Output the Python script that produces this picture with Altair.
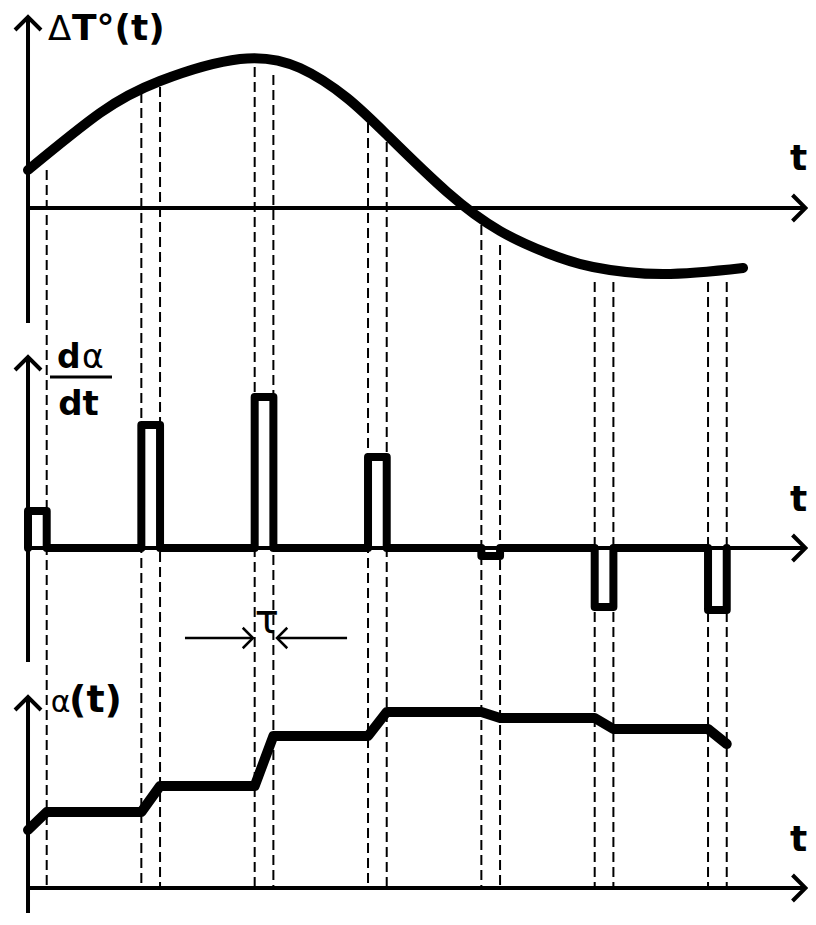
import altair as alt
import pandas as pd

# ---------------- data ----------------
# sampling instants (pulse starts) and pulse width tau (time units)
pulse_start = [0, 1, 2, 3, 4, 5, 6]
tau = 0.165

# top panel: ΔT°(t)
dT_t = [0.0, 0.635, 1.165, 1.871, 2.4, 2.815, 3.168, 3.697, 4.165, 4.58, 4.985, 5.603, 6.309]
dT_v = [0.38, 0.95, 1.27, 1.49, 1.40, 1.10, 0.73, 0.16, -0.23, -0.45, -0.59, -0.66, -0.60]

# middle panel: dα/dt pulse heights
pulse_h = [0.37, 1.23, 1.51, 0.91, -0.08, -0.59, -0.62]

# bottom panel: α(t) levels (start value, then after each pulse)
alpha_levels = [0.58, 0.76, 1.02, 1.52, 1.76, 1.70, 1.59, 1.44]

# dashed guides: upper end (ΔT units) just under the curve
guide_top = [0.38, 1.15, 1.21, 1.41, 1.33, 0.85, 0.66, -0.17, -0.37, -0.74, -0.74, -0.74, -0.74]

# axis extents
t_axis_end = 6.86
v_axis_top = 1.91
v_axis_bottom = [-1.15, -1.14, -1.6]

# ---------------- layout (panel offsets in value units) ----------------
PANEL_STEP = 3.4
def shift(p):
    return -PANEL_STEP * p

X = alt.Scale(domain=[-0.1765, 6.882], nice=False, zero=False)
Y = alt.Scale(domain=[-7.05, 2.0], nice=False, zero=False)

def xe(f="t"):
    return alt.X(f"{f}:Q", scale=X, axis=None)

def ye(f="v"):
    return alt.Y(f"{f}:Q", scale=Y, axis=None)

# guides
guide_t = []
for s in pulse_start:
    if s != 0:
        guide_t.append(s)
    guide_t.append(s + tau)
guides = pd.DataFrame({"t": guide_t, "v": guide_top, "v2": [shift(2)] * len(guide_t)})

# axes
haxes = pd.DataFrame({"t": [0.0] * 3, "t2": [t_axis_end] * 3, "v": [shift(p) for p in range(3)]})
vaxes = pd.DataFrame({"t": [0.0] * 3,
                      "v": [v_axis_top + shift(p) for p in range(3)],
                      "v2": [v_axis_bottom[p] + shift(p) for p in range(3)]})
up_heads = pd.DataFrame({"t": [0.0] * 3, "v": [v_axis_top + shift(p) for p in range(3)]})
right_heads = pd.DataFrame({"t": [t_axis_end] * 3, "v": [shift(p) for p in range(3)]})

# curves
top_curve = pd.DataFrame({"t": dT_t, "v": dT_v})

pulse_rows = []
for s, h in zip(pulse_start, pulse_h):
    for tt, vv in [(s, 0.0), (s, h), (s + tau, h), (s + tau, 0.0)]:
        pulse_rows.append({"t": tt, "v": vv + shift(1)})
pulses = pd.DataFrame(pulse_rows)
pulses["o"] = range(len(pulses))

alpha_rows = [{"t": 0.0, "v": alpha_levels[0] + shift(2)}]
for k, s in enumerate(pulse_start):
    if k > 0:
        alpha_rows.append({"t": s, "v": alpha_levels[k] + shift(2)})
    alpha_rows.append({"t": s + tau, "v": alpha_levels[k + 1] + shift(2)})
alpha = pd.DataFrame(alpha_rows)
alpha["o"] = range(len(alpha))

# fraction bar of dα/dt label and τ arrows
frac_bar = pd.DataFrame({"t": [0.194], "t2": [0.741], "v": [1.71 + shift(1)]})
tau_lines = pd.DataFrame({"t": [1.385, 2.197], "t2": [1.985, 2.815], "v": [-0.90 + shift(1)] * 2})
tau_right = pd.DataFrame({"t": [1.985], "v": [-0.90 + shift(1)]})
tau_left = pd.DataFrame({"t": [2.197], "v": [-0.90 + shift(1)]})

# labels
bold_labels = pd.DataFrame({
    "t": [0.388, 0.256, 0.266, 0.362, 6.724, 6.724, 6.724],
    "v": [1.68, 1.80 + shift(1), 1.33 + shift(1), 1.76 + shift(2), 0.38, 0.37 + shift(1), 0.37 + shift(2)],
    "text": ["T°(t)", "d", "dt", "(t)", "t", "t", "t"],
    "fs": [36, 33, 34, 38, 36, 36, 36],
})
reg_labels = pd.DataFrame({
    "t": [0.176, 0.476, 0.2, 2.0],
    "v": [1.68, 1.80 + shift(1), 1.76 + shift(2), -0.85 + shift(1)],
    "text": ["Δ", "α", "α", "τ"],
    "fs": [34, 33, 30, 40],
})

BLACK = "#000000"
UP = "M-1,1L0,0L1,1"
RIGHT = "M-1,-1L0,0L-1,1"
LEFT = "M1,-1L0,0L1,1"

layers = [
    alt.Chart(guides).mark_rule(color=BLACK, strokeWidth=2, strokeDash=[10, 5])
        .encode(x=xe(), y=ye(), y2="v2:Q"),
    alt.Chart(haxes).mark_rule(color=BLACK, strokeWidth=4)
        .encode(x=xe(), x2="t2:Q", y=ye()),
    alt.Chart(vaxes).mark_rule(color=BLACK, strokeWidth=4)
        .encode(x=xe(), y=ye(), y2="v2:Q"),
    alt.Chart(up_heads).mark_point(shape=UP, filled=False, size=676, strokeWidth=4,
                                   color=BLACK, opacity=1)
        .encode(x=xe(), y=ye()),
    alt.Chart(right_heads).mark_point(shape=RIGHT, filled=False, size=676, strokeWidth=4,
                                      color=BLACK, opacity=1)
        .encode(x=xe(), y=ye()),
    alt.Chart(top_curve).mark_line(color=BLACK, strokeWidth=10, strokeCap="round",
                                   interpolate="natural")
        .encode(x=xe(), y=ye()),
    alt.Chart(pulses).mark_line(color=BLACK, strokeWidth=8, strokeJoin="round", strokeCap="round")
        .encode(x=xe(), y=ye(), order="o:Q"),
    alt.Chart(alpha).mark_line(color=BLACK, strokeWidth=10, strokeJoin="round", strokeCap="round")
        .encode(x=xe(), y=ye(), order="o:Q"),
    alt.Chart(frac_bar).mark_rule(color=BLACK, strokeWidth=3)
        .encode(x=xe(), x2="t2:Q", y=ye()),
    alt.Chart(tau_lines).mark_rule(color=BLACK, strokeWidth=2.5)
        .encode(x=xe(), x2="t2:Q", y=ye()),
    alt.Chart(tau_right).mark_point(shape=RIGHT, filled=False, size=420, strokeWidth=2.5,
                                    color=BLACK, opacity=1)
        .encode(x=xe(), y=ye()),
    alt.Chart(tau_left).mark_point(shape=LEFT, filled=False, size=420, strokeWidth=2.5,
                                   color=BLACK, opacity=1)
        .encode(x=xe(), y=ye()),
    alt.Chart(bold_labels).mark_text(font="DejaVu Sans", fontWeight="bold", align="left",
                                     baseline="alphabetic", color=BLACK)
        .encode(x=xe(), y=ye(), text="text:N", size=alt.Size("fs:Q", scale=None)),
    alt.Chart(reg_labels).mark_text(font="DejaVu Sans", fontWeight="normal", align="left",
                                    baseline="alphabetic", color=BLACK)
        .encode(x=xe(), y=ye(), text="text:N", size=alt.Size("fs:Q", scale=None)),
]

chart = alt.layer(*layers).properties(
    width=800, height=905, padding=0,
    autosize=alt.AutoSizeParams(type="none"),
    background="white",
).configure_view(stroke=None)

chart.save("out.html", embed_options={"renderer": "svg", "actions": False})
